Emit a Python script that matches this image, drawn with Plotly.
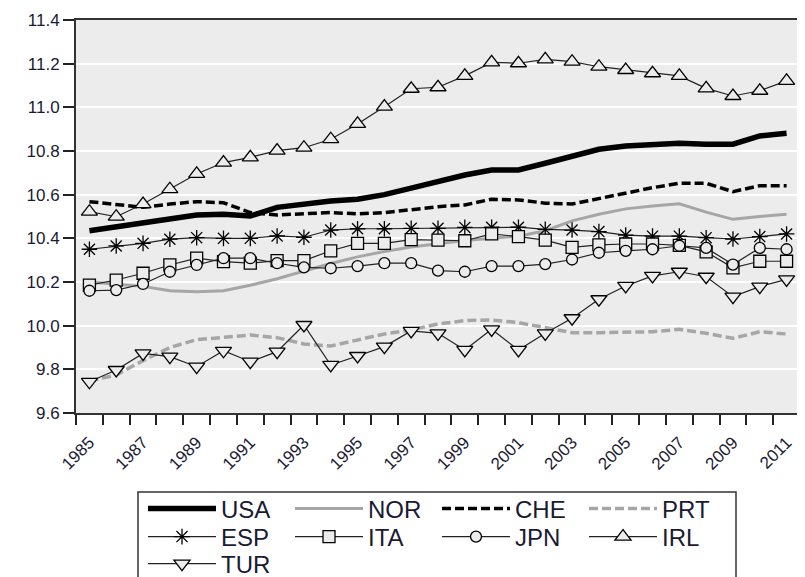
import plotly.graph_objects as go

# annual data, 1985-2011
years = list(range(1985, 2012))
year_labels = [str(y) for y in range(1985, 2012, 2)]

USA = [10.435, 10.453, 10.472, 10.492, 10.507, 10.510, 10.502, 10.542, 10.557, 10.571,
       10.579, 10.600, 10.630, 10.660, 10.690, 10.713, 10.713, 10.744, 10.774, 10.808,
       10.823, 10.831, 10.835, 10.831, 10.831, 10.869, 10.881]
NOR = [10.200, 10.190, 10.180, 10.160, 10.155, 10.160, 10.185, 10.215, 10.250, 10.285,
       10.315, 10.340, 10.360, 10.375, 10.390, 10.400, 10.410, 10.435, 10.480, 10.510,
       10.535, 10.548, 10.558, 10.520, 10.487, 10.500, 10.510]
CHE = [10.568, 10.553, 10.542, 10.557, 10.568, 10.563, 10.518, 10.507, 10.512, 10.518,
       10.512, 10.518, 10.531, 10.545, 10.553, 10.579, 10.576, 10.561, 10.557, 10.583,
       10.606, 10.632, 10.652, 10.652, 10.614, 10.641, 10.641]
PRT = [9.747, 9.774, 9.840, 9.900, 9.936, 9.945, 9.957, 9.945, 9.916, 9.907,
       9.934, 9.962, 9.980, 10.008, 10.023, 10.026, 10.014, 9.993, 9.968, 9.968,
       9.968, 9.972, 9.983, 9.965, 9.942, 9.972, 9.962]
ESP = [10.350, 10.365, 10.377, 10.396, 10.403, 10.400, 10.400, 10.411, 10.405, 10.438,
       10.444, 10.444, 10.446, 10.446, 10.450, 10.451, 10.451, 10.441, 10.438, 10.431,
       10.415, 10.410, 10.410, 10.403, 10.397, 10.408, 10.420]
ITA = [10.186, 10.209, 10.240, 10.278, 10.309, 10.293, 10.286, 10.298, 10.298, 10.343,
       10.377, 10.377, 10.394, 10.392, 10.389, 10.420, 10.408, 10.392, 10.359, 10.370,
       10.374, 10.374, 10.368, 10.338, 10.265, 10.295, 10.295]
JPN = [10.160, 10.163, 10.191, 10.247, 10.278, 10.309, 10.309, 10.286, 10.267, 10.263,
       10.273, 10.286, 10.286, 10.252, 10.247, 10.273, 10.273, 10.282, 10.303, 10.334,
       10.343, 10.350, 10.366, 10.356, 10.280, 10.356, 10.350]
IRL = [10.522, 10.499, 10.557, 10.625, 10.695, 10.747, 10.771, 10.802, 10.815, 10.854,
       10.924, 11.003, 11.085, 11.092, 11.144, 11.206, 11.202, 11.220, 11.209, 11.186,
       11.171, 11.156, 11.144, 11.087, 11.052, 11.076, 11.121]
TUR = [9.743, 9.797, 9.873, 9.858, 9.812, 9.885, 9.835, 9.881, 10.003, 9.820,
       9.861, 9.904, 9.976, 9.965, 9.889, 9.983, 9.889, 9.965, 10.034, 10.121,
       10.182, 10.228, 10.247, 10.224, 10.133, 10.179, 10.212]

BG = "#ececec"
INK = "#1a1a33"
FONT = "Liberation Sans, Arial, sans-serif"

# the page body adds an 8px margin, so the figure is sized to fit inside it
W, H = 797, 569

fig = go.Figure()

# plain line series (row 1 of the legend)
line_series = [
    ("USA", USA, dict(color="black", width=5.5)),
    ("NOR", NOR, dict(color="#a6a6a6", width=3)),
    ("CHE", CHE, dict(color="black", width=3.5, dash="9px,4px")),
    ("PRT", PRT, dict(color="#a6a6a6", width=3.5, dash="9px,4px")),
]
for name, vals, ln in line_series:
    fig.add_trace(go.Scatter(x=years, y=vals, name=name, mode="lines",
                             line=ln, legend="legend"))

# marker series
marker_series = [
    ("ESP", ESP, "asterisk-open", 13, "legend2"),
    ("ITA", ITA, "square", 12, "legend2"),
    ("JPN", JPN, "circle", 11, "legend2"),
    ("IRL", IRL, "triangle-up", 14, "legend2"),
    ("TUR", TUR, "triangle-down", 14, "legend3"),
]
for name, vals, sym, size, lg in marker_series:
    mcolor = "black" if sym.endswith("-open") else BG
    fig.add_trace(go.Scatter(
        x=years, y=vals, name=name, mode="lines+markers",
        line=dict(color="#222222", width=1.2),
        marker=dict(symbol=sym, size=size, color=mcolor,
                    line=dict(color="black", width=1.3)),
        legend=lg))

leg_common = dict(orientation="h", xref="container", yref="container",
                  xanchor="left", yanchor="middle",
                  font=dict(family=FONT, size=24, color=INK),
                  itemwidth=68, entrywidth=64, entrywidthmode="pixels",
                  bgcolor="rgba(0,0,0,0)")

fig.update_layout(
    width=W, height=H,
    margin=dict(l=68, r=5, t=12, b=164, autoexpand=False),
    paper_bgcolor="white", plot_bgcolor=BG,
    font=dict(family=FONT, size=17, color=INK),
    legend=dict(leg_common, x=135 / W, y=1 - 501 / H),
    legend2=dict(leg_common, x=135 / W, y=1 - 529 / H),
    legend3=dict(leg_common, x=135 / W, y=1 - 556 / H),
    xaxis=dict(range=[1984.5, 2011.5], tickmode="array",
               tickvals=list(range(1985, 2012, 2)), ticktext=year_labels,
               tickangle=-45, ticks="", ticklabelstandoff=11,
               showgrid=False, zeroline=False,
               showline=True, linecolor="#333", linewidth=2, mirror=True,
               minor=dict(tick0=1984.5, dtick=1, ticks="outside", ticklen=10,
                          tickwidth=1.5, tickcolor="#222", showgrid=False)),
    yaxis=dict(range=[9.6, 11.4], dtick=0.2, tickformat=".1f",
               ticks="outside", ticklen=11, tickwidth=1.5, tickcolor="#222",
               showgrid=True, gridcolor="white", gridwidth=1.5, zeroline=False,
               showline=True, linecolor="#333", linewidth=2, mirror=True),
    shapes=[dict(type="rect", xref="paper", yref="paper",
                 x0=(130 - 68) / 724, x1=(728 - 68) / 724,
                 y0=(405 - 484) / 393, y1=(405 - 600) / 393,
                 line=dict(color="#333", width=1.5), layer="above")],
)

fig.write_html("out.html")
